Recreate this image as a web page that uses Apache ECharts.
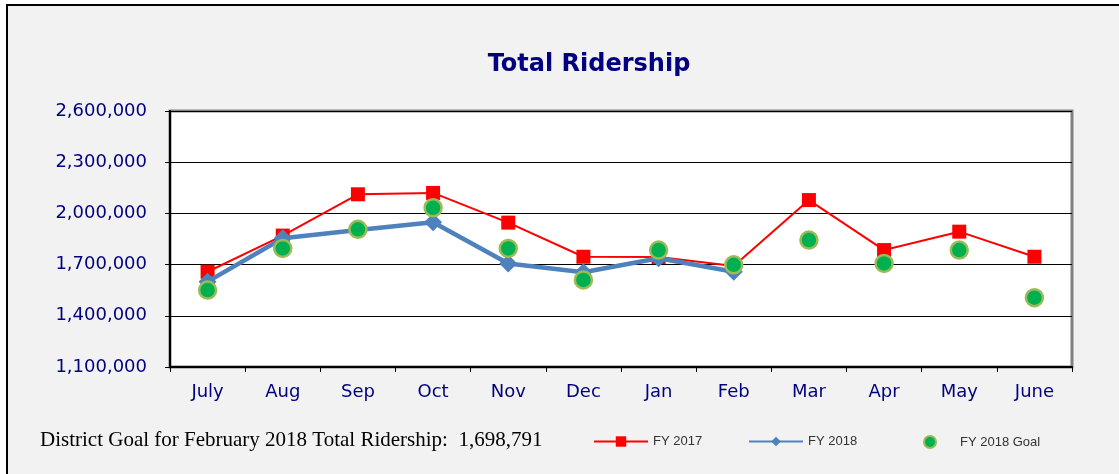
<!DOCTYPE html>
<html><head><meta charset="utf-8">
<script src="https://cdn.jsdelivr.net/npm/echarts@6/dist/echarts.min.js"></script>
<style>html,body{margin:0;padding:0;background:#fff}#c{width:1119px;height:474px}</style>
</head><body><div id="c"></div>
<script>
const months = ['July','Aug','Sep','Oct','Nov','Dec','Jan','Feb','Mar','Apr','May','June'];
const fy2017 = [1658000,1870000,2112000,2120000,1946000,1746000,1744000,1692000,2078000,1785000,1893000,1746000];
const fy2018 = [1600000,1854000,1903000,1948000,1707000,1655000,1737000,1658000,null,null,null,null];
const fy2018Goal = [1551000,1795000,1907000,2033000,1795000,1610000,1785000,1698791,1844000,1707000,1785000,1506000];
const yTicks = {min:1100000, max:2600000, interval:300000};
const titleText = 'Total Ridership';
const noteText = 'District Goal for February 2018 Total Ridership:  1,698,791';

const chart = echarts.init(document.getElementById('c'), null, {renderer:'canvas'});
const navy = '#000080';
const legendText = {color:'#333', fontFamily:'Liberation Sans, Arial', fontSize:13};
chart.setOption({
  animation:false,
  backgroundColor:'#ffffff',
  graphic:[
    {type:'rect', z:-10, silent:true, shape:{x:7,y:5,width:1130,height:480},
     style:{fill:'#f2f2f2', stroke:'#000', lineWidth:2}},
    {type:'text', left:40, top:430, style:{text:noteText, fill:'#000', font:'21px "Liberation Serif", "Times New Roman", serif'}}
  ],
  title:{text:titleText, left:584, textAlign:'center', top:48,
    textStyle:{color:navy, fontSize:24, fontWeight:'bold', fontFamily:'DejaVu Sans, Arial'}},
  grid:{left:170, right:47, top:111, bottom:107, show:true, backgroundColor:'#ffffff', borderColor:'#808080', borderWidth:3},
  legend:[
    {data:['FY 2017'], left:593, top:435, padding:0, itemWidth:54, itemHeight:13, itemGap:2, textStyle:legendText},
    {data:['FY 2018'], left:748, top:435, padding:0, itemWidth:54, itemHeight:12, textStyle:legendText},
    {data:['FY 2018 Goal'], left:923, top:435, padding:0, itemWidth:12, itemHeight:12, textStyle:Object.assign({},legendText,{padding:[0,0,0,19]})}
  ],
  xAxis:{type:'category', data:months, boundaryGap:true,
    axisLine:{lineStyle:{color:'#000', width:2}},
    axisTick:{show:true, length:5, lineStyle:{color:'#000', width:1}},
    axisLabel:{color:navy, fontSize:18, fontFamily:'DejaVu Sans, Arial', margin:16},
    splitLine:{show:false}},
  yAxis:{type:'value', min:yTicks.min, max:yTicks.max, interval:yTicks.interval,
    axisLine:{show:true, lineStyle:{color:'#000', width:2}},
    axisTick:{show:true, length:5, lineStyle:{color:'#000'}},
    axisLabel:{color:navy, fontSize:18, fontFamily:'DejaVu Sans, Arial', margin:23,
      formatter:v=>v.toLocaleString('en-US')},
    splitLine:{show:true, lineStyle:{color:'#000', width:1}}},
  series:[
    {name:'FY 2017', type:'line', data:fy2017, z:2, symbol:'rect', symbolSize:14,
     lineStyle:{color:'#ff0000', width:2}, itemStyle:{color:'#ff0000'}},
    {name:'FY 2018', type:'line', data:fy2018, z:3, symbol:'diamond', symbolSize:18, connectNulls:false,
     lineStyle:{color:'#4f81bd', width:4.5}, itemStyle:{color:'#4f81bd'}},
    {name:'FY 2018 Goal', type:'scatter', data:fy2018Goal, z:4, symbol:'circle', symbolSize:17,
     itemStyle:{color:'#00b050', borderColor:'#9bbb59', borderWidth:2.5, opacity:1}}
  ]
});
</script></body></html>
